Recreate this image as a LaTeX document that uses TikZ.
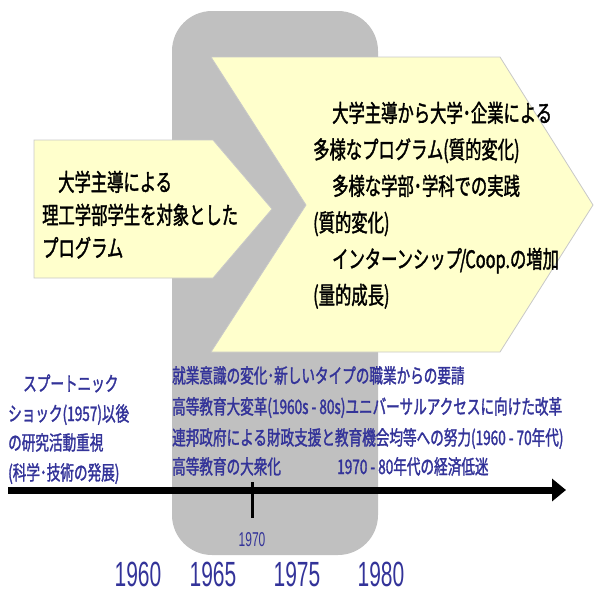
\documentclass[tikz,border=0pt]{standalone}
\usepackage{fontspec}
\usetikzlibrary{arrows.meta}
\newfontfamily\jp[FakeStretch=0.68,FakeBold=1.5]{Noto Sans CJK JP}
\newfontfamily\num[FakeStretch=0.6]{Liberation Sans}
\definecolor{grayc}{RGB}{192,192,192}
\definecolor{yel}{RGB}{255,255,204}
\definecolor{edgegray}{RGB}{200,200,200}
\definecolor{navyc}{RGB}{51,51,153}
\tikzset{
  graybox/.style={fill=grayc, draw=none, rounded corners=40pt},
  chev/.style={fill=yel, draw=edgegray, line width=0.8pt},
  bigtxt/.style={anchor=base west, inner sep=0pt, font=\jp\fontsize{24}{28}\selectfont, text=black},
  blutxt/.style={anchor=base west, inner sep=0pt, font=\jp\fontsize{20}{24}\selectfont, text=navyc},
  yrtxt/.style={anchor=base, inner sep=0pt, font=\num\fontsize{35}{40}\selectfont, text=navyc},
  smallyr/.style={anchor=base, inner sep=0pt, font=\num\fontsize{20}{24}\selectfont, text=navyc},
  axisline/.style={line width=7pt, -{Triangle[length=14pt,width=22pt]}},
  tickline/.style={line width=3pt},
}
\begin{document}
\begin{tikzpicture}[x=1pt,y=-1pt]
\useasboundingbox (0,0) rectangle (594,590);
% gray period band
\fill[graybox] (172,11) rectangle (378,555);
% chevrons
\draw[chev] (34,140) -- (213,140) -- (272,209) -- (213,278) -- (34,278) -- cycle;
\draw[chev] (211,57) -- (500,57) -- (593,205) -- (500,352) -- (211,352) -- (306,205) -- cycle;
% small chevron text
\node[bigtxt] (s1) at (58,191) {大学主導による};
\node[bigtxt] (s2) at (42,224) {理工学部学生を対象とした};
\node[bigtxt] (s3) at (42,257) {プログラム};
% big chevron text
\node[bigtxt] (b1) at (332,122) {大学主導から大学･企業による};
\node[bigtxt] (b2) at (313,158.5) {多様なプログラム(質的変化)};
\node[bigtxt] (b3) at (332,195) {多様な学部･学科での実践};
\node[bigtxt] (b4) at (313,231.5) {(質的変化)};
\node[bigtxt] (b5) at (332,268) {インターンシップ\kern-2pt/\kern-1pt Coop.の増加};
\node[bigtxt] (b6) at (313,304) {(量的成長)};
% left blue text
\node[blutxt] (l1) at (23,391) {スプートニック};
\node[blutxt] (l2) at (8,421) {ショック(1957)以後};
\node[blutxt] (l3) at (8,450) {の研究活動重視};
\node[blutxt] (l4) at (8,480) {(科学･技術の発展)};
% middle blue text
\node[blutxt] (m1) at (172,383) {就業意識の変化･新しいタイプの職業からの要請};
\node[blutxt] (m2) at (172,414) {高等教育大変革(1960s - 80s)ユニバーサルアクセスに向けた改革};
\node[blutxt] (m3) at (172,445) {連邦政府による財政支援と教育機会均等への努力(1960 - 70年代)};
\node[blutxt] (m4) at (172,474) {高等教育の大衆化};
\node[blutxt] (m5) at (337,474) {1970 - 80年代の経済低迷};
% axis
\coordinate (axL) at (8,490);
\coordinate (axR) at (566,490);
\draw[axisline] (axL) -- (axR);
\coordinate (tkT) at (252,482);
\coordinate (tkB) at (252,518);
\draw[tickline] (tkT) -- (tkB);
\node[smallyr] (y70) at (252,546) {1970};
% years
\node[yrtxt] (y1) at (138,586) {1960};
\node[yrtxt] (y2) at (213,586) {1965};
\node[yrtxt] (y3) at (297,586) {1975};
\node[yrtxt] (y4) at (381,586) {1980};
\end{tikzpicture}
\end{document}
